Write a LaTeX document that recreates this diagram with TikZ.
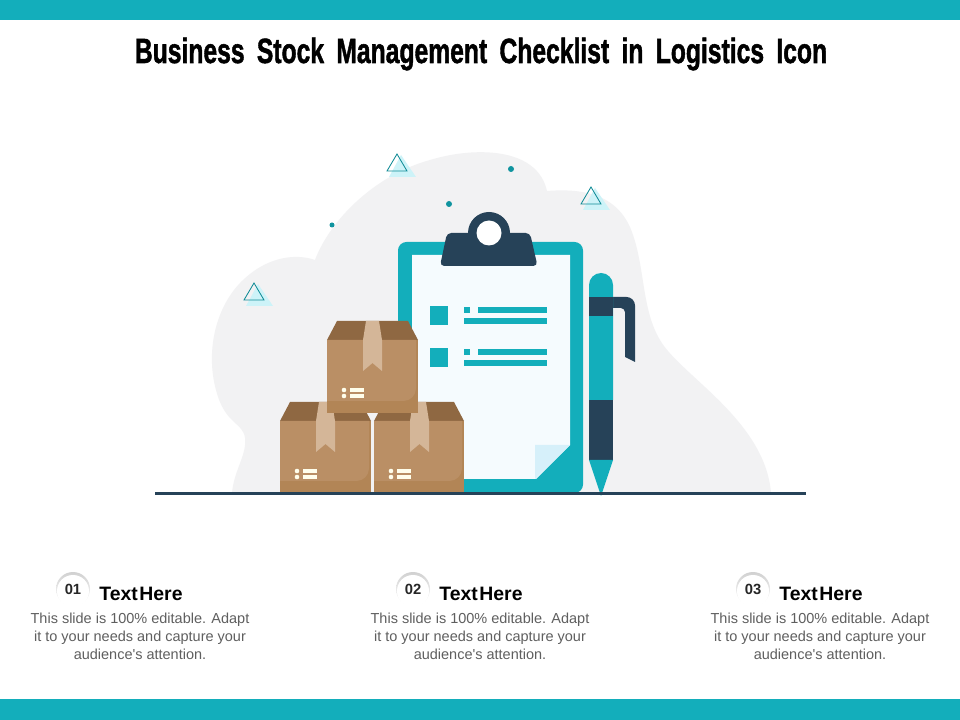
\documentclass[tikz,border=0pt]{standalone}
\usepackage{fontspec}
\setmainfont{Liberation Sans}
\newfontfamily\titlefont[FakeBold=1.6]{Liberation Sans Bold}
\definecolor{tealbar}{RGB}{19,174,187}
\definecolor{navy}{RGB}{38,66,88}
\definecolor{blobgray}{RGB}{242,242,243}
\definecolor{paper}{RGB}{245,251,254}
\definecolor{foldblue}{RGB}{214,240,250}
\definecolor{lightcyan}{RGB}{205,243,248}
\definecolor{boxlight}{RGB}{186,143,101}
\definecolor{boxdark}{RGB}{178,133,86}
\definecolor{lidbrown}{RGB}{143,104,66}
\definecolor{tapetan}{RGB}{212,182,152}
\definecolor{bodygray}{RGB}{95,95,95}
\tikzset{
  px/.style={x=0.025cm,y=-0.025cm},
  headtext/.style={font=\titlefont\fontsize{15}{18}\selectfont,text=black,inner sep=0},
  numtext/.style={font=\bfseries\fontsize{10.5}{12}\selectfont,text=black!85,inner sep=0},
  subtext/.style={font=\bfseries\fontsize{13.8}{14}\selectfont,text=black,inner sep=0},
  bodytext/.style={font=\fontsize{10.3}{12.8}\selectfont,text=bodygray,align=center,inner sep=0}
}
\begin{document}
\begin{tikzpicture}[px]

\useasboundingbox (0,0) rectangle (960,720);
\fill [white] (0,0) rectangle (960,720);

\fill [tealbar] (0,0) rectangle (960,20);
\fill [tealbar] (0,699) rectangle (960,720);

\node [headtext,anchor=base] (title) at (481,63) {\scalebox{1.17}[1.66]{Business\hspace{0.22em} Stock\hspace{0.22em} Management\hspace{0.22em} Checklist\hspace{0.22em} in\hspace{0.22em} Logistics\hspace{0.22em} Icon}};

% background blob
\fill [blobgray] (232,493) .. controls (234,470) and (247,455) .. (245,438)
  .. controls (243,422) and (225,425) .. (216,390)
  .. controls (205,350) and (216,300) .. (250,274)
  .. controls (270,258) and (295,253) .. (315,260)
  .. controls (330,220) and (375,175) .. (430,160)
  .. controls (470,148) and (510,150) .. (530,165)
  .. controls (540,172) and (545,182) .. (547,191)
  .. controls (585,188) and (620,195) .. (633,235)
  .. controls (645,270) and (642,310) .. (660,340)
  .. controls (680,375) and (765,420) .. (771,493) -- cycle;

% triangles
\foreach \tx/\ty in {397/154,254/283,591/187} {
  \begin{scope}[shift={(\tx,\ty)}]
    \fill [lightcyan] (4,1) -- (19,23) -- (-8,23) -- cycle;
    \draw [tealbar!80!black,line width=0.6pt] (0,0) -- (10,17) -- (-10,17) -- cycle;
  \end{scope}
}

\fill [tealbar!85!black] (511,169) circle (3);
\fill [tealbar!85!black] (449,204) circle (3);
\fill [tealbar!85!black] (332,225) circle (2.5);

% clipboard
\fill [tealbar,rounded corners=6] (398,242) rectangle (583,493);
\fill [paper] (412,255) -- (570,255) -- (570,445) -- (536,479) -- (412,479) -- cycle;
\fill [foldblue] (535,445) -- (570,445) -- (535,479) -- cycle;
\fill [navy] (489,233) circle (21);
\fill [navy,rounded corners=3] (447,233) -- (530,233) -- (537.5,266) -- (440,266) -- cycle;
\fill [white] (489,233) circle (12.5);

\foreach \ly in {306,348} {
  \fill [tealbar] (430,\ly) rectangle (448,\ly+19);
  \fill [tealbar] (464,\ly+1) rectangle (470,\ly+7);
  \fill [tealbar] (478,\ly+1) rectangle (547,\ly+7);
  \fill [tealbar] (464,\ly+12) rectangle (547,\ly+18);
}

% pen
\fill [navy] (613,297) [rounded corners=6] -- (635,297) [sharp corners] -- (635,362) -- (625,357) [rounded corners=3] -- (625,308) [sharp corners] -- (613,308) -- cycle;
\fill [tealbar] (589,400) -- (589,285) arc (180:360:12) -- (613,400) -- cycle;
\fill [navy] (589,297) rectangle (613,316);
\fill [navy] (589,400) rectangle (613,460);
\fill [tealbar] (589,460) -- (613,460) -- (601,496) -- cycle;

% boxes
\foreach \bx/\by/\bw/\bh in {280/421/91/72,374/421/90/72,327/340/91/73} {
  \begin{scope}[shift={(\bx,\by)}]
    \fill [lidbrown] (0,0) -- (10,-19) -- (\bw-10,-19) -- (\bw,0) -- cycle;
    \fill [boxdark] (0,0) rectangle (\bw,\bh);
    \fill [boxlight] (0,0) -- (0,\bh-12) [rounded corners=9] -- (\bw-2,\bh-12) [sharp corners] -- (\bw-2,0) -- cycle;
    \fill [tapetan] (39,-19) -- (52,-19) -- (55,0) -- (55,31) -- (45.5,23) -- (36,31) -- (36,0) -- cycle;
    \fill [white!92!yellow] (17,50) circle (2.3);
    \fill [white!92!yellow] (17,56) circle (2.3);
    \fill [white!92!yellow] (23,48) rectangle (37,52);
    \fill [white!92!yellow] (23,54) rectangle (37,58);
  \end{scope}
}

\fill [navy] (155,492) rectangle (806,495);

% text blocks
\foreach \i/\num in {0/01,1/02,2/03} {
  \begin{scope}[shift={(340*\i,0)}]
    \shade [top color=black!18,bottom color=white] (73,589) circle (17);
    \fill [white] (73,591) circle (16);
    \node [numtext] (num\i) at (73,589) {\num};
    \node [subtext] (head\i) at (141,594) {Text\hspace{0.08em}Here};
    \node [bodytext,anchor=north] (body\i) at (140,613) {This slide is 100\% editable. Adapt\\it to your needs and capture your\\audience\textquotesingle s attention.};
  \end{scope}
}

\end{tikzpicture}
\end{document}
